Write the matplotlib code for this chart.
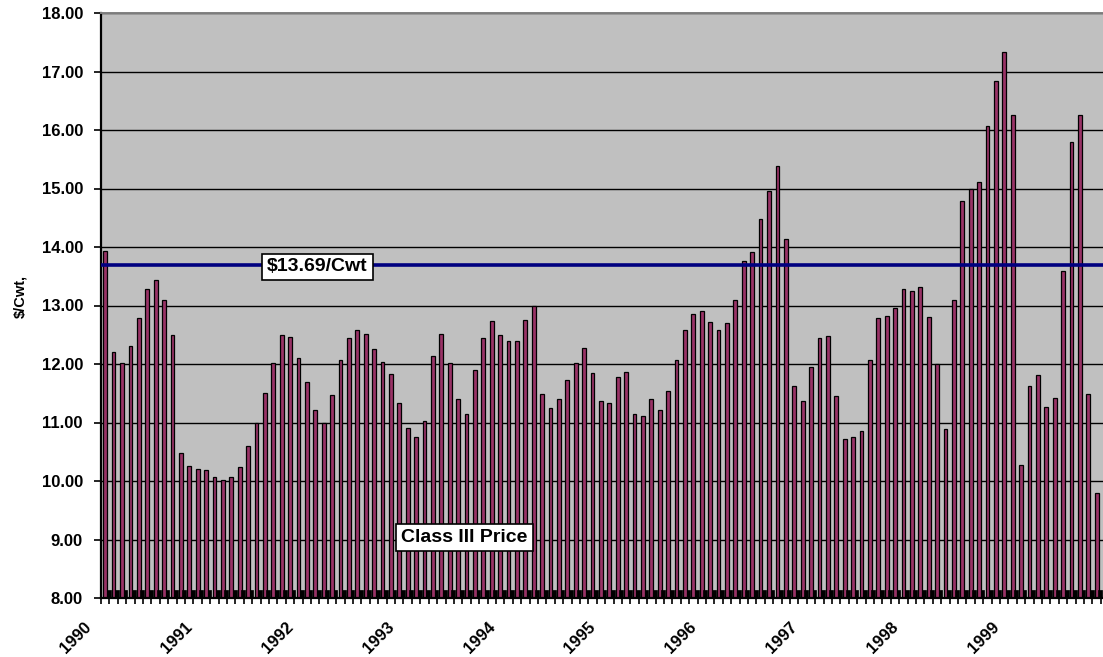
import numpy as np
import matplotlib.pyplot as plt
from matplotlib.transforms import ScaledTranslation

# monthly Class III price, $/Cwt
years = ['1990', '1991', '1992', '1993', '1994', '1995', '1996', '1997', '1998', '1999']
prices_1990 = [13.94, 12.21, 12.01, 12.31, 12.79, 13.29, 13.44, 13.10, 12.49, 10.48, 10.26, 10.20]
prices_1991 = [10.18, 10.06, 10.02, 10.06, 10.24, 10.59, 11.00, 11.51, 12.01, 12.49, 12.47, 12.10]
prices_1992 = [11.70, 11.21, 11.00, 11.47, 12.06, 12.45, 12.58, 12.52, 12.26, 12.04, 11.83, 11.33]
prices_1993 = [10.90, 10.75, 11.03, 12.14, 12.51, 12.02, 11.40, 11.14, 11.89, 12.45, 12.74, 12.50]
prices_1994 = [12.40, 12.40, 12.76, 12.99, 11.49, 11.24, 11.40, 11.72, 12.02, 12.27, 11.85, 11.37]
prices_1995 = [11.33, 11.78, 11.86, 11.14, 11.11, 11.40, 11.21, 11.54, 12.07, 12.58, 12.86, 12.90]
prices_1996 = [12.72, 12.58, 12.70, 13.10, 13.76, 13.92, 14.48, 14.96, 15.38, 14.13, 11.62, 11.37]
prices_1997 = [11.95, 12.45, 12.48, 11.45, 10.71, 10.75, 10.86, 12.06, 12.79, 12.82, 12.96, 13.28]
prices_1998 = [13.25, 13.31, 12.80, 12.00, 10.89, 13.10, 14.78, 14.99, 15.11, 16.06, 16.83, 17.34]
prices_1999 = [16.26, 10.27, 11.62, 11.81, 11.26, 11.42, 13.59, 15.79, 16.26, 11.49, 9.79]

prices = (prices_1990 + prices_1991 + prices_1992 + prices_1993 + prices_1994 +
          prices_1995 + prices_1996 + prices_1997 + prices_1998 + prices_1999)
# small black second series sitting on the axis floor
floor_vals = [8.13] * len(prices)

target_price = 13.69
target_label = '$13.69/Cwt'
series_label = 'Class III Price'

plt.rcParams['font.family'] = ['Liberation Sans', 'DejaVu Sans']
plt.rcParams['font.weight'] = 'bold'

W, H = 1103, 657
fig = plt.figure(figsize=(W / 100, H / 100), dpi=100)
ax = fig.add_axes([101 / W, 1 - 598 / H, 1 - 101 / W, (598 - 13) / H])
ax.set_facecolor('#c0c0c0')

x = np.arange(len(prices))
ax.bar(x, prices, width=0.45, color='#993366', edgecolor='black', linewidth=0.9, zorder=2)
ax.bar(x + 0.42, floor_vals, width=0.45, color='black', edgecolor='black', linewidth=0.5, zorder=2)

ax.axhline(target_price, color='#000080', linewidth=2.6, zorder=3)

ax.set_ylim(8, 18)
ax.set_xlim(-0.5, 118.75)
ax.set_yticks(np.arange(8, 18.01, 1))
ax.set_yticklabels(['%.2f' % v for v in np.arange(8, 18.01, 1)], fontsize=12, fontweight='bold')
ax.yaxis.grid(True, color='black', linewidth=1.0)
ax.set_axisbelow(True)
ax.tick_params(axis='y', direction='out', length=5, width=1.2, pad=8)

ax.set_xticks(np.arange(0, len(prices), 12))
ax.set_xticklabels(years, rotation=45, ha='right', va='center', rotation_mode='anchor',
                   fontsize=12, fontweight='bold')
ax.tick_params(axis='x', which='major', length=0, pad=19)
ax.set_xticks(np.arange(-0.5, len(prices), 1), minor=True)
ax.tick_params(axis='x', which='minor', direction='out', length=4, width=1.2)
offset = ScaledTranslation(-16 / 100, 0, fig.dpi_scale_trans)
for lbl in ax.get_xticklabels():
    lbl.set_transform(lbl.get_transform() + offset)

for side in ['left', 'bottom']:
    ax.spines[side].set_color('black')
    ax.spines[side].set_linewidth(1.6)
ax.spines['top'].set_color('#808080')
ax.spines['top'].set_linewidth(1.4)
ax.spines['right'].set_visible(False)

ax.text(25.25, 13.66, target_label, ha='center', va='center', fontsize=14, fontweight='bold',
        zorder=4, bbox=dict(boxstyle='square,pad=0.25', fc='white', ec='black', lw=1.2))
ax.text(42.76, 9.03, series_label, ha='center', va='center', fontsize=14, fontweight='bold',
        zorder=4, bbox=dict(boxstyle='square,pad=0.25', fc='white', ec='black', lw=1.2))

fig.text(20 / W, 1 - 296 / H, '$/Cwt,', rotation=90, ha='center', va='center',
         fontsize=10.5, fontweight='bold')

fig.savefig('out.png', dpi=100)
